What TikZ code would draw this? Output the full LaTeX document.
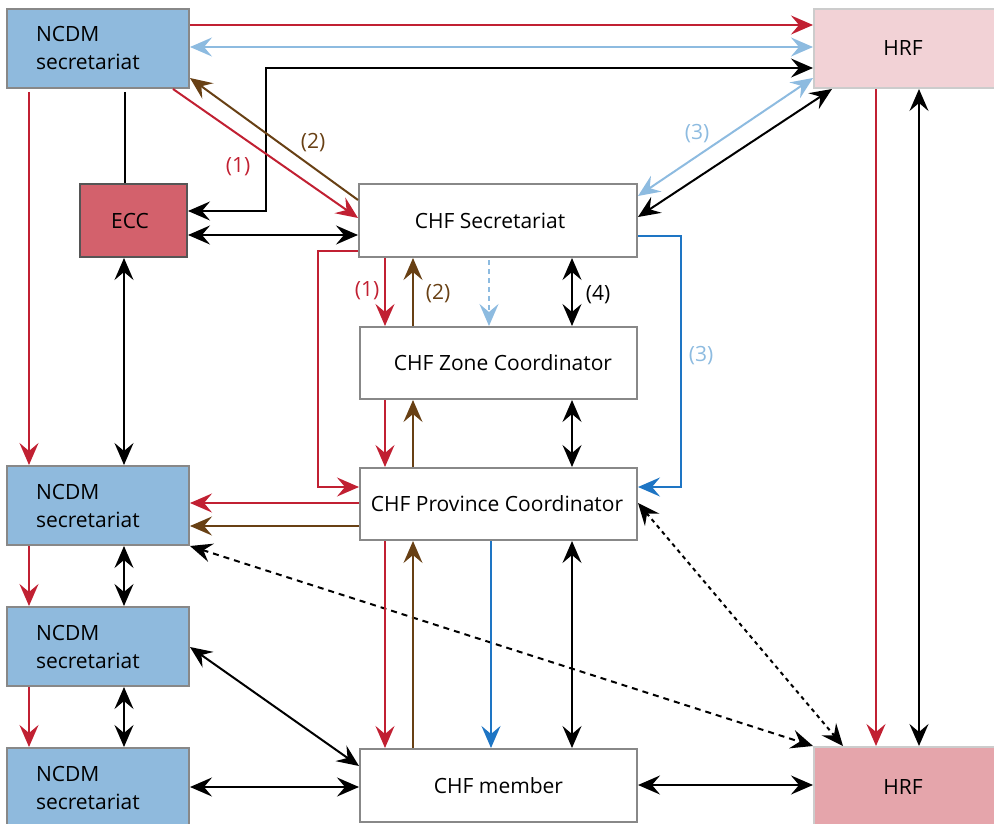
\documentclass[tikz,border=0pt]{standalone}
\usepackage{fontspec}
\setmainfont{Open Sans}
\usetikzlibrary{arrows.meta}

\definecolor{cRed}{RGB}{193,32,50}
\definecolor{cBrown}{RGB}{104,64,20}
\definecolor{cLBlue}{RGB}{141,187,224}
\definecolor{cBlue}{RGB}{30,117,196}
\definecolor{fNcdm}{RGB}{143,186,221}
\definecolor{fEcc}{RGB}{211,97,108}
\definecolor{fHrfA}{RGB}{242,210,214}
\definecolor{fHrfB}{RGB}{229,165,171}
\definecolor{bGray}{RGB}{136,136,136}
\definecolor{bDark}{RGB}{85,85,85}
\definecolor{bLight}{RGB}{204,204,204}

\begin{document}
\begin{tikzpicture}[
  x=1pt, y=-1pt,
  line width=2pt,
  >={Stealth[length=22pt,width=19pt,inset=8pt]},
  txt/.style={font=\fontsize{21}{28}\selectfont},
  box/.style={txt, draw=bGray, line width=2pt, inner sep=0pt, fill=white,
              minimum width=277pt, minimum height=72pt},
  ncdm/.style={box, fill=fNcdm, minimum width=182pt, minimum height=79pt,
               text width=124pt, align=left},
  ecc/.style={box, fill=fEcc, draw=bDark, minimum width=107pt, minimum height=73pt},
  hrf/.style={box, draw=bLight, minimum width=182pt, minimum height=79pt},
  lab/.style={txt, inner sep=0pt},
  rd/.style={draw=cRed, ->},
  br/.style={draw=cBrown, ->},
  lb/.style={draw=cLBlue},
  bl/.style={draw=cBlue, ->},
  bk/.style={draw=black, <->},
]
\useasboundingbox (0,0) rectangle (994,824);
\clip (0,0) rectangle (994,824);

% ---- boxes ----
\node[ncdm] (n1) at (98,48.5) {NCDM\\secretariat};
\node[ncdm] (n2) at (98,505.5) {NCDM\\secretariat};
\node[ncdm] (n3) at (98,646.5) {NCDM\\secretariat};
\node[ncdm] (n4) at (98,787.5) {NCDM\\secretariat};
\node[ecc] (ecc) at (133.5,220.5) {\hspace*{-7pt}ECC};
\node[hrf, fill=fHrfA] (h1) at (905,48.5) {\hspace*{-4pt}HRF};
\node[hrf, fill=fHrfB] (h2) at (905,786.5) {\hspace*{-4pt}HRF};
\node[box, minimum width=278pt, minimum height=73pt] (sec) at (498,220.5) {\hspace*{-16pt}CHF Secretariat};
\node[box] (zone) at (498.5,363) {\hspace*{9pt}CHF Zone Coordinator};
\node[box] (prov) at (498.5,504) {\hspace*{-3pt}CHF Province Coordinator};
\node[box, minimum height=73pt] (mem) at (498.5,785.5) {CHF member};

% ---- top band: NCDM secretariat to HRF ----
\draw[rd] (n1.east |- 0,25) -- (h1.west |- 0,25);
\draw[lb, <->] (n1.east |- 0,47) -- (h1.west |- 0,47);
\draw[bk] (h1.west |- 0,68) -| (266,140) |- (ecc.east |- 0,211);

% ---- NCDM secretariat and CHF Secretariat ----
\draw[rd] (n1.south -| 173,0) -- (sec.west |- 0,218);
\draw[br] (sec.west |- 0,200) -- (n1.east |- 0,78);
\node[lab, text=cRed] (l1a) at (238,167) {(1)};
\node[lab, text=cBrown] (l2a) at (313,143) {(2)};

% ---- left column ----
\draw (n1.south -| 125,0) ++(0,3) -- (ecc.north -| 125,0);
\draw[rd] (n1.south -| 29,0) ++(0,3) -- (n2.north -| 29,0);
\draw[bk] (ecc.east |- 0,235) -- (sec.west |- 0,235);
\draw[bk] (ecc.south -| 124,0) -- (n2.north -| 124,0);
\draw[bk] (n2.south -| 124,0) -- (n3.north -| 124,0);
\draw[rd] (n2.south -| 29,0) -- (n3.north -| 29,0);
\draw[bk] (n3.south -| 124,0) -- (n4.north -| 124,0);
\draw[rd] (n3.south -| 29,0) -- (n4.north -| 29,0);

% ---- CHF Secretariat and HRF ----
\draw[lb, <->] (sec.east |- 0,196) -- (h1.west |- 0,78);
\draw[bk] (sec.east |- 0,217) -- (h1.south -| 832,0);
\node[lab, text=cLBlue] (l3a) at (697,134) {(3)};

% ---- right column: HRF to HRF ----
\draw[rd] (h1.south -| 876,0) -- (h2.north -| 876,0);
\draw[bk] (h1.south -| 919,0) -- (h2.north -| 919,0);

% ---- CHF Secretariat to Province Coordinator (side routes) ----
\draw[bl] (sec.east |- 0,236) -| (681,360) |- (prov.east |- 0,487);
\node[lab, text=cLBlue] (l3b) at (701,356) {(3)};
\draw[rd] (sec.west |- 0,251) -| (318,360) |- (prov.west |- 0,487);

% ---- CHF Secretariat to Zone Coordinator ----
\draw[rd] (sec.south -| 385,0) -- (zone.north -| 385,0);
\draw[br] (zone.north -| 413,0) -- (sec.south -| 413,0);
\draw[lb, ->, dash pattern=on 5pt off 4pt] (sec.south -| 489,0) ++(0,2) -- (zone.north -| 489,0);
\draw[bk] (sec.south -| 572,0) -- (zone.north -| 572,0);
\node[lab, text=cRed] (l1b) at (367,291) {(1)};
\node[lab, text=cBrown] (l2b) at (438,294) {(2)};
\node[lab] (l4) at (598,295) {(4)};

% ---- Zone Coordinator to Province Coordinator ----
\draw[rd] (zone.south -| 385,0) -- (prov.north -| 385,0);
\draw[br] (prov.north -| 413,0) -- (zone.south -| 413,0);
\draw[bk] (zone.south -| 572,0) -- (prov.north -| 572,0);

% ---- Province Coordinator to NCDM secretariat ----
\draw[rd] (prov.west |- 0,503) -- (n2.east |- 0,503);
\draw[br] (prov.west |- 0,526) -- (n2.east |- 0,526);

% ---- dashed links to HRF ----
\draw[bk, dash pattern=on 6pt off 5pt] (n2.south east) -- (h2.north west);
\draw[bk, dash pattern=on 4pt off 4pt] (prov.east |- 0,503) -- (h2.north -| 843,0);

% ---- Province Coordinator to CHF member ----
\draw[rd] (prov.south -| 385,0) -- (mem.north -| 385,0);
\draw[br] (mem.north -| 413,0) -- (prov.south -| 413,0);
\draw[bl] (prov.south -| 491,0) -- (mem.north -| 491,0);
\draw[bk] (prov.south -| 572,0) -- (mem.north -| 572,0);

% ---- CHF member links ----
\draw[bk] (n3.east |- 0,647) -- (mem.west |- 0,766);
\draw[bk] (n4.east |- 0,787) -- (mem.west |- 0,787);
\draw[bk] (mem.east |- 0,785) -- (h2.west |- 0,785);
\end{tikzpicture}
\end{document}
